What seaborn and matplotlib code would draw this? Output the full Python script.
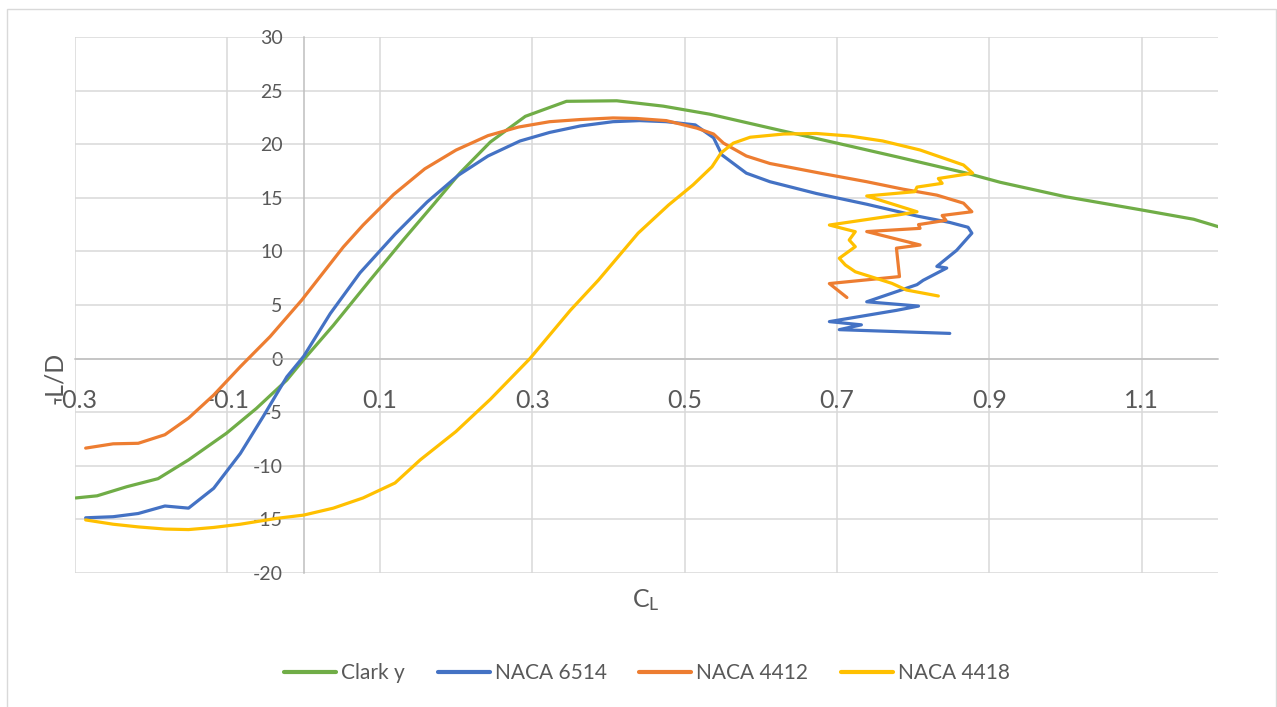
import matplotlib
matplotlib.use("Agg")
import matplotlib.pyplot as plt
import seaborn as sns
import pandas as pd
from matplotlib.patches import Rectangle

# ---------------- data ----------------
series_names = ["Clark y", "NACA 6514", "NACA 4412", "NACA 4418"]
series_colors = ["#70AD47", "#4472C4", "#ED7D31", "#FFC000"]

clark_cl = [-0.299, -0.271, -0.232, -0.191, -0.151, -0.101, -0.062, -0.022, 0.0, 0.039,
            0.087, 0.13, 0.172, 0.205, 0.245, 0.291, 0.345, 0.411, 0.472, 0.533,
            0.625, 0.70, 0.78, 0.87, 0.914, 1.0, 1.097, 1.168, 1.203]
clark_ld = [-13.0, -12.8, -11.95, -11.2, -9.45, -6.95, -4.65, -2.0, -0.1, 3.1,
            7.3, 11.0, 14.5, 17.3, 20.2, 22.6, 24.0, 24.05, 23.55, 22.8,
            21.3, 20.1, 18.8, 17.3, 16.45, 15.1, 13.9, 13.0, 12.25]

n6514_cl = [-0.286, -0.25, -0.217, -0.182, -0.151, -0.118, -0.083, -0.053, -0.022, 0.0,
            0.035, 0.074, 0.12, 0.162, 0.203, 0.242, 0.284, 0.323, 0.363, 0.406,
            0.441, 0.476, 0.514, 0.538, 0.549, 0.581, 0.612, 0.673, 0.739, 0.805,
            0.848, 0.872, 0.877, 0.857, 0.831, 0.844, 0.813, 0.805, 0.739, 0.807,
            0.778, 0.69, 0.732, 0.703, 0.848]
n6514_ld = [-14.85, -14.75, -14.45, -13.75, -13.95, -12.1, -8.85, -5.4, -1.7, 0.2,
            4.2, 8.0, 11.6, 14.6, 17.1, 18.9, 20.3, 21.1, 21.7, 22.1,
            22.2, 22.1, 21.8, 20.6, 19.0, 17.3, 16.5, 15.4, 14.4, 13.3,
            12.7, 12.25, 11.7, 10.1, 8.6, 8.45, 7.3, 6.9, 5.3, 4.9,
            4.5, 3.45, 3.15, 2.7, 2.35]

n4412_cl = [-0.286, -0.25, -0.217, -0.182, -0.151, -0.118, -0.083, -0.044, -0.0025, 0.052,
            0.078, 0.118, 0.159, 0.2, 0.242, 0.282, 0.323, 0.363, 0.406, 0.437,
            0.476, 0.516, 0.538, 0.551, 0.581, 0.612, 0.678, 0.739, 0.787, 0.831,
            0.866, 0.877, 0.838, 0.843, 0.807, 0.809, 0.739, 0.809, 0.778, 0.782,
            0.69, 0.713]
n4412_ld = [-8.35, -7.95, -7.9, -7.1, -5.55, -3.4, -0.75, 2.05, 5.45, 10.4,
            12.45, 15.3, 17.7, 19.45, 20.8, 21.6, 22.1, 22.3, 22.45, 22.4,
            22.2, 21.5, 20.95, 20.1, 18.9, 18.2, 17.3, 16.5, 15.8, 15.25,
            14.5, 13.7, 13.35, 12.9, 12.5, 12.15, 11.85, 10.6, 10.3, 7.65,
            7.0, 5.7]

n4418_cl = [-0.286, -0.25, -0.217, -0.182, -0.151, -0.118, -0.083, -0.035, 0.0, 0.039,
            0.078, 0.12, 0.153, 0.2, 0.245, 0.297, 0.35, 0.387, 0.439, 0.479,
            0.511, 0.536, 0.548, 0.564, 0.586, 0.63, 0.673, 0.717, 0.76, 0.809,
            0.866, 0.878, 0.833, 0.838, 0.805, 0.802, 0.739, 0.805, 0.78, 0.69,
            0.724, 0.716, 0.724, 0.703, 0.711, 0.724, 0.772, 0.791, 0.833]
n4418_ld = [-15.05, -15.45, -15.7, -15.9, -15.95, -15.75, -15.45, -14.9, -14.6, -13.95,
            -13.0, -11.6, -9.45, -6.8, -3.8, 0.0, 4.5, 7.33, 11.7, 14.33,
            16.2, 17.9, 19.2, 20.1, 20.65, 20.95, 21.0, 20.76, 20.3, 19.46,
            18.06, 17.3, 16.8, 16.35, 16.0, 15.57, 15.17, 13.7, 13.4, 12.46,
            11.84, 11.06, 10.44, 9.36, 8.73, 8.1, 7.02, 6.4, 5.84]

x_ticks = [-0.3, -0.1, 0.1, 0.3, 0.5, 0.7, 0.9, 1.1]
x_tick_labels = ["-0.3", "-0.1", "0.1", "0.3", "0.5", "0.7", "0.9", "1.1"]
y_ticks = [-20, -15, -10, -5, 0, 5, 10, 15, 20, 25, 30]
y_tick_labels = ["-20", "-15", "-10", "-5", "0", "5", "10", "15", "20", "25", "30"]

# ---------------- table ----------------
all_cl = [clark_cl, n6514_cl, n4412_cl, n4418_cl]
all_ld = [clark_ld, n6514_ld, n4412_ld, n4418_ld]
frames = []
for name, cl, ld in zip(series_names, all_cl, all_ld):
    frames.append(pd.DataFrame({"CL": cl, "LD": ld, "Airfoil": name}))
df = pd.concat(frames, ignore_index=True)

# ---------------- style ----------------
sns.set_style("white")
plt.rcParams["font.family"] = ["Lato", "DejaVu Sans"]
plt.rcParams["mathtext.default"] = "regular"
text_col = "#595959"

W, H = 1277, 707
fig = plt.figure(figsize=(W / 100, H / 100), dpi=100)
ax = fig.add_axes([75 / W, 1 - 573 / H, (1218 - 75) / W, (573 - 37) / H])

sns.lineplot(data=df, x="CL", y="LD", hue="Airfoil", hue_order=series_names,
             palette=series_colors, sort=False, estimator=None, units="Airfoil",
             linewidth=2.3, ax=ax, legend=False, zorder=3)

ax.set_xlim(-0.3, 1.2)
ax.set_ylim(-20, 30)
ax.set_xticks(x_ticks)
ax.set_xticklabels(x_tick_labels)
ax.set_yticks(y_ticks)
ax.set_yticklabels(y_tick_labels)
ax.set_axisbelow(True)
ax.grid(True, color="#D9D9D9", linewidth=1.1)
ax.set_xlabel("")
ax.set_ylabel("")

for s in ["top", "right"]:
    ax.spines[s].set_visible(False)
ax.spines["left"].set_position(("data", 0))
ax.spines["bottom"].set_position(("data", 0))
for s in ["left", "bottom"]:
    ax.spines[s].set_color("#BFBFBF")
    ax.spines[s].set_linewidth(1.1)
    ax.spines[s].set_zorder(1)

ax.tick_params(axis="y", length=0, pad=15, labelsize=14, labelcolor=text_col)
ax.tick_params(axis="x", length=0, pad=22, labelsize=18, labelcolor=text_col)

# axis titles
fig.text(646 / W, 1 - 600 / H, "C$_{L}$", ha="center", va="center",
         fontsize=18, color=text_col)
fig.text(55 / W, 1 - 378 / H, "-L/D", ha="center", va="center", rotation=90,
         fontsize=18, color=text_col)

# legend
handles = [plt.Line2D([], [], color=c, linewidth=3) for c in series_colors]
fig.legend(handles, series_names, loc="center", bbox_to_anchor=(647 / W, 1 - 673 / H),
           ncol=4, frameon=False, fontsize=15, handlelength=2.5, handletextpad=0.25,
           columnspacing=1.55, labelcolor=text_col)

# chart-area border
fig.patches.append(Rectangle((7 / W, -0.05), (1276 - 7) / W, 1.05 - 9 / H,
                             transform=fig.transFigure, fill=False,
                             edgecolor="#D9D9D9", linewidth=1.0))

fig.savefig("out.png", dpi=100)
